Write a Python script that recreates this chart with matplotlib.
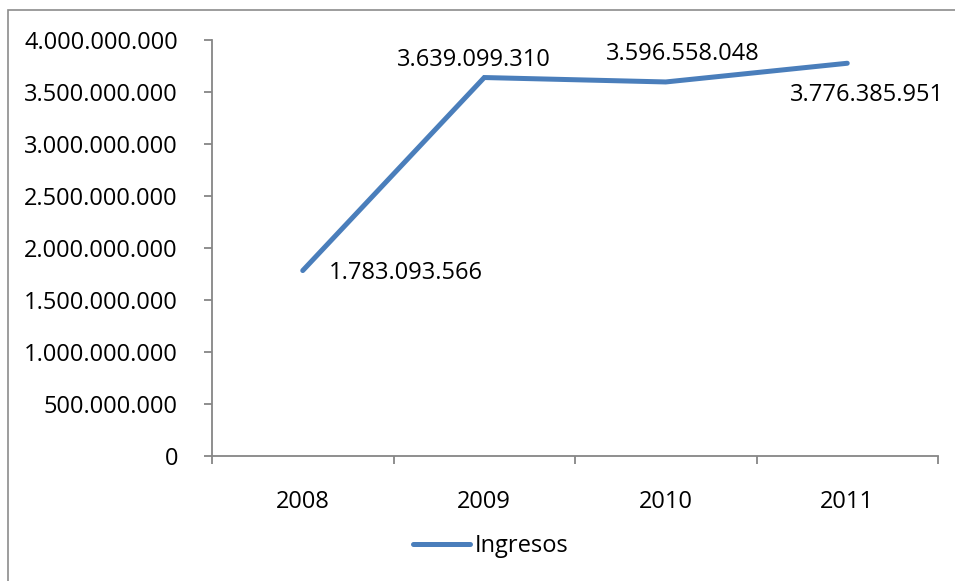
import matplotlib
matplotlib.use("Agg")
import matplotlib.pyplot as plt
from matplotlib.patches import Rectangle
from matplotlib.ticker import FuncFormatter, FixedLocator

years = ["2008", "2009", "2010", "2011"]
ingresos = [1783093566, 3639099310, 3596558048, 3776385951]
series_name = "Ingresos"
yticks = [0, 500000000, 1000000000, 1500000000, 2000000000,
          2500000000, 3000000000, 3500000000, 4000000000]

# label offsets in pixels (dx, dy) relative to the point, with alignment
label_offsets = [(26, -2, "left"), (-10, 18, "center"), (17, 28, "center"), (20, -32, "center")]

plt.rcParams['font.family'] = ['Open Sans', 'DejaVu Sans']
FS = 17
W, H = 955, 581
fig = plt.figure(figsize=(W / 100, H / 100), dpi=100)

# outer chart border (only left and top visible)
fig.patches.append(Rectangle((8 / W, -0.1), 1.2, 1.1 - 10 / H, transform=fig.transFigure,
                             fill=False, edgecolor="#8c8c8c", linewidth=1.2))

ax = fig.add_axes([212 / W, 1 - 456 / H, (938 - 212) / W, (456 - 40) / H])
gray = "#868686"
x = list(range(len(years)))
line, = ax.plot(x, ingresos, color="#4A7EBB", linewidth=3.6, solid_capstyle="round",
                solid_joinstyle="miter", label=series_name)

ax.set_xlim(-0.5, len(years) - 0.5)
ax.set_ylim(0, 4000000000)
ax.set_yticks(yticks)
ax.yaxis.set_major_formatter(FuncFormatter(lambda v, p: f"{int(v):,}".replace(",", ".")))
ax.set_xticks(x)
ax.set_xticklabels(years)
ax.xaxis.set_minor_locator(FixedLocator([i - 0.5 for i in range(len(years) + 1)]))

for s in ["top", "right"]:
    ax.spines[s].set_visible(False)
for s in ["left", "bottom"]:
    ax.spines[s].set_color(gray)
    ax.spines[s].set_linewidth(1.3)

ax.tick_params(axis="y", length=6, width=1.3, color=gray, pad=18.5, labelsize=FS)
ax.tick_params(axis="x", which="major", length=0, pad=24.5, labelsize=FS)
ax.tick_params(axis="x", which="minor", length=6, width=1.3, color=gray)

for xi, v, (dx, dy, ha) in zip(x, ingresos, label_offsets):
    ax.annotate(f"{v:,}".replace(",", "."), (xi, v), xytext=(dx * 0.72, dy * 0.72),
                textcoords="offset points", ha=ha, va="center", fontsize=FS)

leg = fig.legend(handles=[line], loc="center", bbox_to_anchor=(491 / W, 1 - 546 / H),
                 frameon=False, fontsize=FS, handlelength=2.4, handletextpad=0.2)

fig.savefig("out.png", dpi=100)
